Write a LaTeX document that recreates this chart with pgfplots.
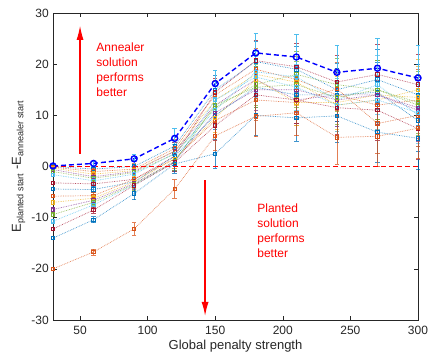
\documentclass[border=0pt]{standalone}
\usepackage{pgfplots}
\pgfplotsset{compat=1.18}
\usepackage{pgfplotstable}
\usepackage{fontspec}
\setmainfont{Liberation Sans}
\usetikzlibrary{arrows.meta}
\definecolor{mB}{rgb}{0,0.447,0.741}
\definecolor{mO}{rgb}{0.85,0.325,0.098}
\definecolor{mY}{rgb}{0.929,0.694,0.125}
\definecolor{mP}{rgb}{0.494,0.184,0.556}
\definecolor{mG}{rgb}{0.466,0.674,0.188}
\definecolor{mL}{rgb}{0.301,0.745,0.933}
\definecolor{mR}{rgb}{0.635,0.078,0.184}
\definecolor{axgray}{rgb}{0.15,0.15,0.15}
\pgfplotstableread{
x   e    s0    s1    s2    s3    s4    s5    s6    s7    s8    s9    s10   s11   s12   s13   s14   s15   top   etop
30  0.3  0.0  -0.1  -0.3  -0.6  -1.0  -1.6  -3.2  -4.4  -5.8  -7.0  -8.4  -9.4  -10.7 -12.2 -14.0 -20.0  0.1   0.3
60  0.6 -0.5  -1.0  -1.5  -2.0  -2.3  -2.8  -3.4  -4.5  -5.7  -6.2  -6.6  -7.0  -7.5  -8.5  -10.4 -16.7  0.6   0.5
90  1.2  0.0  -0.5  -0.8  -1.0  -1.2  -1.5  -2.5  -3.0  -2.5  -3.0  -3.3  -3.5  -3.6  -3.7  -5.3  -12.2  1.5   1.0
120 1.8  4.0   3.5   3.0   3.0   2.5   2.5   2.0   2.0   1.5   1.5   1.0   1.0   0.8   0.8   0.5   -4.4  5.5   2.0
150 2.8  15.0  14.0  13.0  12.0  11.5  11.0  14.5  10.0  9.0   9.5   10.5  12.0  13.0  8.0   2.5   6.0   16.2  2.7
180 4.0  20.5  19.0  18.0  17.0  16.0  18.5  20.7  15.5  13.0  17.0  15.0  15.5  17.5  14.0  10.0  9.8   22.2  3.8
210 4.5  19.0  17.0  16.5  13.0  18.0  17.5  19.5  14.0  12.5  12.5  15.0  16.0  15.5  13.0  9.5   10.5  21.4  4.4
240 5.2  15.0  14.0  12.0  14.0  16.0  13.0  16.5  14.0  15.2  12.5  13.0  13.5  12.0  11.5  9.9   5.7   18.4  5.4
270 5.8  17.0  12.0  13.0  14.0  15.0  16.0  18.0  14.5  8.4   14.0  14.0  15.0  13.0  11.0  6.7   5.9   19.2  5.8
300 6.0  14.0  13.0  15.0  11.0  12.0  10.0  16.0  9.0   10.0  13.5  11.5  12.5  10.5  7.4   5.5   7.5   17.3  6.5
}\datatable
\begin{document}
\fontsize{12}{14}\selectfont
\begin{tikzpicture}
\begin{axis}[
  scale only axis,
  width=365pt, height=307pt,
  xmin=30, xmax=300, ymin=-30, ymax=30,
  xtick={50,100,150,200,250,300},
  ytick={-30,-20,-10,0,10,20,30},
  tick align=inside,
  major tick length=4pt,
  axis line style={axgray, line width=0.6pt},
  every tick/.style={axgray, line width=0.6pt},
  tick label style={font=\fontsize{12}{14}\selectfont, text=axgray},
  xticklabel style={yshift=-2pt},
  /pgf/number format/assume math mode=true,
  label style={font=\fontsize{13}{15}\selectfont, text=axgray},
  xlabel={Global penalty strength},
  ylabel={E\textsubscript{planted start} -E\textsubscript{annealer start}},
  xlabel style={yshift=3pt},
  ylabel style={yshift=-2pt},
  clip=false,
  ser/.style={#1, densely dotted, line width=0.7pt, opacity=0.75,
    mark=square, mark size=1.7pt, mark options={solid, line width=0.9pt, opacity=1},
    error bars/.cd, y dir=both, y explicit,
    error bar style={solid, line width=0.7pt, #1},
    error mark options={rotate=90, mark size=2.2pt, solid, line width=0.7pt, #1}},
]
\addplot[ser=mB] table[x=x, y=s0,  y error=e] {\datatable};
\addplot[ser=mO] table[x=x, y=s1,  y error=e] {\datatable};
\addplot[ser=mY] table[x=x, y=s2,  y error=e] {\datatable};
\addplot[ser=mP] table[x=x, y=s3,  y error=e] {\datatable};
\addplot[ser=mG] table[x=x, y=s4,  y error=e] {\datatable};
\addplot[ser=mL] table[x=x, y=s5,  y error=e] {\datatable};
\addplot[ser=mR] table[x=x, y=s6,  y error=e] {\datatable};
\addplot[ser=mB] table[x=x, y=s7,  y error=e] {\datatable};
\addplot[ser=mO] table[x=x, y=s8,  y error=e] {\datatable};
\addplot[ser=mY] table[x=x, y=s9,  y error=e] {\datatable};
\addplot[ser=mP] table[x=x, y=s10, y error=e] {\datatable};
\addplot[ser=mG] table[x=x, y=s11, y error=e] {\datatable};
\addplot[ser=mL] table[x=x, y=s12, y error=e] {\datatable};
\addplot[ser=mR] table[x=x, y=s13, y error=e] {\datatable};
\addplot[ser=mB] table[x=x, y=s14, y error=e] {\datatable};
\addplot[ser=mO] table[x=x, y=s15, y error=e] {\datatable};
\addplot[red, line width=1.2pt, dash pattern=on 5pt off 3pt, mark=none] coordinates {(30,0) (300,0)};
\addplot[blue, line width=1.4pt, dash pattern=on 5pt off 3pt,
  mark=o, mark size=3pt, mark options={solid, line width=1.4pt, blue},
  error bars/.cd, y dir=both, y explicit,
  error bar style={solid, line width=0.7pt, mL},
  error mark options={rotate=90, mark size=2.2pt, solid, mL}]
  table[x=x, y=top, y error=etop] {\datatable};
\draw[red, line width=1.2pt, -{Latex[length=14pt, width=7pt]}] (axis cs:50,2.5) -- (axis cs:50,27.5);
\draw[red, line width=1.2pt, -{Latex[length=14pt, width=7pt]}] (axis cs:142.5,-2.7) -- (axis cs:142.5,-29.2);
\node[red, anchor=north west, align=left, font=\fontsize{12}{15}\selectfont, inner sep=0pt] at (axis cs:62,24.2) {Annealer\\solution\\performs\\better};
\node[red, anchor=north west, align=left, font=\fontsize{12}{15}\selectfont, inner sep=0pt] at (axis cs:181,-7.3) {Planted\\solution\\performs\\better};
\end{axis}
\pgfresetboundingbox
\useasboundingbox ([xshift=-53pt,yshift=-35pt]current axis.south west) rectangle ([xshift=11pt,yshift=13pt]current axis.north east);
\end{tikzpicture}
\end{document}
